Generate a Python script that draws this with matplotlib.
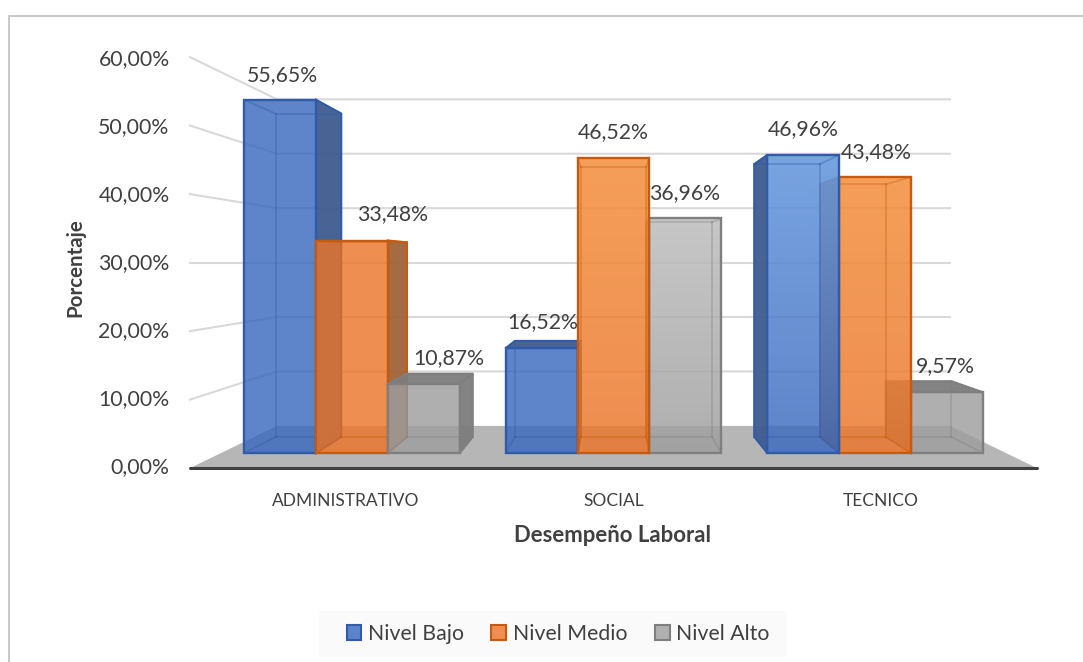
import numpy as np
import matplotlib
matplotlib.use('Agg')
from matplotlib import pyplot as plt
from matplotlib.patches import Patch, Polygon, Rectangle

categories = ['ADMINISTRATIVO', 'SOCIAL', 'TECNICO']
series = ['Nivel Bajo', 'Nivel Medio', 'Nivel Alto']
nivel_bajo = [55.65, 16.52, 46.96]
nivel_medio = [33.48, 46.52, 43.48]
nivel_alto = [10.87, 36.96, 9.57]
yticks = [0, 10, 20, 30, 40, 50, 60]

values = [nivel_bajo, nivel_medio, nivel_alto]

# colours per series: front, dark side, edge, legend fill, sheen tint
front = ['#3a69bd', '#eb7529', '#9e9e9e']
side = ['#3f5c8e', '#a0643a', '#7c7c7c']
edge = ['#2f5ba8', '#c55a11', '#7f7f7f']
legend_fill = ['#5b83c9', '#ef8e50', '#b0b0b0']
tint = [(0.6, 0.8, 1.0), (1.0, 0.72, 0.4), (1.0, 1.0, 1.0)]
# how much lighter the top of each front face gets [category][series]
sheen = [[0, 0, 0], [0, 0.4, 0.3], [0.45, 0.4, 0]]

# order of drawing in each category, nearest the centre goes last
draw_order = [[0, 1, 2], [0, 2, 1], [2, 1, 0]]

# value labels, offset in pixels from the top centre of the front face
label_dx = [[2, 41, 25], [1, 0, -1], [0, 1, -2]]
label_dy = [[-25, -26, -26], [-26, -26, -25], [-26, -25, -26]]

mySize = 15.3
textcolor = '#404040'
gridcolor = '#d9d9d9'
plt.rcParams['font.family'] = ['Lato', 'DejaVu Sans']

# perspective of the 3d plot, everything in pixels of the figure
cx = 613.5
cy = 262.6
ppv = 6.85        # pixels per percent on the front of the floor
half_w = 423.5
s_wall = 0.7946   # back wall
s_front = 0.9266  # front of the bars
s_back = 0.848    # back of the bars
bar_w = 77.5
cat_x = [-282.3, 0, 282.3]


def proj(x, v, s):
    return cx + x * s, cy - (v - 30) * ppv * s


def face(ax, pts, color, alpha, z, ec=None, lw=1.5):
    p = Polygon(pts, closed=True, facecolor=color, alpha=alpha, edgecolor='none', zorder=z)
    ax.add_patch(p)
    if ec is not None:
        ax.add_patch(Polygon(pts, closed=True, fill=False, edgecolor=ec, linewidth=lw, zorder=z + 0.1))
    return p


fig = plt.figure(figsize=(10.83, 6.62), dpi=100)
ax = fig.add_axes([0, 0, 1, 1])
ax.set_xlim(0, 1083)
ax.set_ylim(662, 0)
ax.axis('off')

# chart frame, only left and top show in the crop
ax.plot([8.5, 8.5, 1083], [662, 15.5, 15.5], color='#c4c4c4', lw=1.3, zorder=1, solid_joinstyle='miter')

# walls
for t in yticks[1:]:
    x0, y0 = proj(-half_w, t, 1)
    x1, y1 = proj(-half_w, t, s_wall)
    x2, y2 = proj(half_w, t, s_wall)
    ax.plot([x0, x1, x2], [y0, y1, y2], color=gridcolor, lw=1.5, zorder=2, solid_joinstyle='miter')

# floor
floor = [proj(-half_w, 0, 1), proj(-half_w, 0, s_wall), proj(half_w, 0, s_wall), proj(half_w, 0, 1)]
face(ax, floor, '#b6b6b6', 1, 3)
x0, y0 = proj(-half_w, 0, 1)
x1, y1 = proj(half_w, 0, 1)
ax.plot([x0, x1], [y0, y1], color='#404040', lw=2.2, zorder=100, solid_capstyle='round')

# bars
z = 10
for c in range(len(categories)):
    for i in draw_order[c]:
        v = values[i][c]
        xl = cat_x[c] + (i - 1.5) * bar_w
        xr = xl + bar_w
        col = front[i]
        ec = edge[i]

        # box corners, f = front and b = back
        fbl, fbr = proj(xl, 0, s_front), proj(xr, 0, s_front)
        ftl, ftr = proj(xl, v, s_front), proj(xr, v, s_front)
        bbl, bbr = proj(xl, 0, s_back), proj(xr, 0, s_back)
        btl, btr = proj(xl, v, s_back), proj(xr, v, s_back)

        # sides seen from outside are dark
        if xr < 0:
            face(ax, [fbr, ftr, btr, bbr], side[i], 0.95, z, ec)
        if xl > 0:
            face(ax, [fbl, ftl, btl, bbl], side[i], 0.95, z, ec)
        if v < 30:
            face(ax, [ftl, ftr, btr, btl], side[i], 0.95, z, ec)

        # front
        f = face(ax, [fbl, fbr, ftr, ftl], col, 0.82, z + 1)
        if sheen[c][i] > 0:
            grad = np.ones((64, 2, 4))
            grad[:, :, :3] = tint[i]
            grad[:, :, 3] = np.linspace(sheen[c][i], 0, 64)[:, None]
            im = ax.imshow(grad, extent=[ftl[0], ftr[0], fbl[1], ftl[1]], aspect='auto',
                           zorder=z + 1.1, interpolation='bilinear')
            im.set_clip_path(f)

        # back edges seen through the front
        for a, b in [(bbl, bbr), (bbr, btr), (btr, btl), (btl, bbl), (fbl, bbl), (fbr, bbr), (ftl, btl), (ftr, btr)]:
            ax.plot([a[0], b[0]], [a[1], b[1]], color=ec, alpha=0.35, lw=1.3, zorder=z + 1.2)
        ax.add_patch(Polygon([fbl, fbr, ftr, ftl], closed=True, fill=False, edgecolor=ec, linewidth=1.7,
                             zorder=z + 1.3))
        z += 2

# value labels
for c in range(len(categories)):
    for i in range(len(series)):
        v = values[i][c]
        xm = cat_x[c] + (i - 1) * bar_w
        x, y = proj(xm, v, s_front)
        ax.text(x + label_dx[c][i], y + label_dy[c][i], f'{v:.2f}%'.replace('.', ','), fontsize=mySize,
                color=textcolor, ha='center', va='center', zorder=200)

# axis labels
for t in yticks:
    ax.text(169.5, 467 - t * 6.8, f'{t:.2f}%'.replace('.', ','), fontsize=mySize, color=textcolor,
            ha='right', va='center')
for c, name in enumerate(categories):
    ax.text(cx + cat_x[c] * 0.948, 501, name, fontsize=12.5, color=textcolor, ha='center', va='center')
ax.text(75, 268, 'Porcentaje', fontsize=14.8, fontweight='bold', color=textcolor, rotation=90,
        ha='center', va='center')
ax.text(613, 535, 'Desempeño Laboral', fontsize=15.9, fontweight='bold', color=textcolor, ha='center', va='center')

# legend on its own pale band
ax.add_patch(Rectangle((319, 611), 467.5, 45.5, facecolor='#fafafa', edgecolor='none', zorder=4))
handles = [Patch(facecolor=legend_fill[i], edgecolor=edge[i], linewidth=1.5) for i in range(3)]
leg = ax.legend(handles, series, loc='center', bbox_to_anchor=(558 / 1083, 1 - 633.5 / 662), ncol=3,
                fontsize=mySize, frameon=False, handlelength=0.7, handleheight=0.7, handletextpad=0.3,
                columnspacing=1.3, borderpad=0, labelcolor=textcolor)
leg.set_zorder(5)

ax.set_xlim(0, 1083)
ax.set_ylim(662, 0)
fig.savefig('out.png', dpi=100)
